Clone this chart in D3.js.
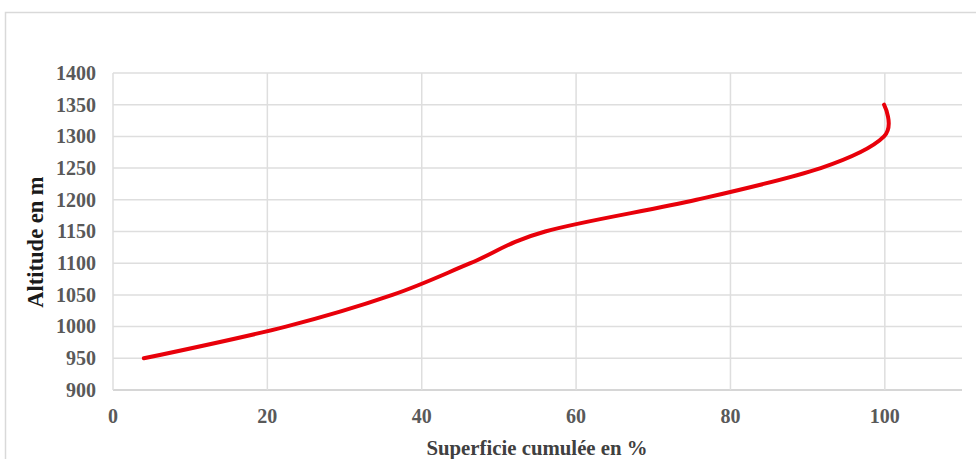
<!DOCTYPE html>
<html>
<head>
<meta charset="utf-8">
<script src="https://cdn.jsdelivr.net/npm/d3@7"></script>
<style>
  html, body { margin: 0; padding: 0; background: #fff; }
  svg { display: block; }
</style>
</head>
<body>
<svg id="chart" width="976" height="459"></svg>
<script>
// Data
const altitudes = [950, 1000, 1050, 1100, 1150, 1200, 1250, 1300, 1350];
const cumulativeArea = [4, 22.4, 36.2, 46.3, 56, 75.6, 91.7, 99.9, 99.9];
const xTicks = [0, 20, 40, 60, 80, 100];
const yTicks = [900, 950, 1000, 1050, 1100, 1150, 1200, 1250, 1300, 1350, 1400];
const xTitle = "Superficie cumulée en %";
const yTitle = "Altitude en m";

const svg = d3.select("#chart");
const W = 976, H = 459;
const plotL = 113, plotR = 962, plotT = 73, plotB = 390;
const serif = "'Liberation Serif', 'Times New Roman', serif";

const x = d3.scaleLinear().domain([0, 110]).range([plotL, plotR]);
const y = d3.scaleLinear().domain([900, 1400]).range([plotB, plotT]);

// outer frame
svg.append("rect")
  .attr("x", 5.5).attr("y", 12.5)
  .attr("width", W + 10).attr("height", H + 10)
  .attr("fill", "none").attr("stroke", "#d9d9d9").attr("stroke-width", 1.5);

// horizontal gridlines
svg.append("g").selectAll("line").data(yTicks).join("line")
  .attr("x1", plotL).attr("x2", plotR)
  .attr("y1", d => y(d)).attr("y2", d => y(d))
  .attr("stroke", d => d === 900 ? "#c8c8c8" : "#dedede")
  .attr("stroke-width", 1.5);

// vertical gridlines
svg.append("g").selectAll("line").data(xTicks).join("line")
  .attr("x1", d => x(d)).attr("x2", d => x(d))
  .attr("y1", plotT).attr("y2", plotB)
  .attr("stroke", "#dedede")
  .attr("stroke-width", 1.5);

// Y tick labels
svg.append("g").selectAll("text").data(yTicks).join("text")
  .attr("x", 96).attr("y", d => y(d))
  .attr("dy", "0.34em")
  .attr("text-anchor", "end")
  .attr("font-family", serif)
  .attr("font-weight", "bold")
  .attr("font-size", 20)
  .attr("fill", "#595959")
  .text(d => d);

// X tick labels
svg.append("g").selectAll("text").data(xTicks).join("text")
  .attr("x", d => x(d)).attr("y", 423)
  .attr("text-anchor", "middle")
  .attr("font-family", serif)
  .attr("font-weight", "bold")
  .attr("font-size", 20)
  .attr("fill", "#595959")
  .text(d => d);

// Axis titles
svg.append("text")
  .attr("x", 537).attr("y", 455)
  .attr("text-anchor", "middle")
  .attr("font-family", serif)
  .attr("font-weight", "bold")
  .attr("font-size", 20.8)
  .attr("fill", "#404040")
  .text(xTitle);

svg.append("text")
  .attr("transform", "translate(43, 242) rotate(-90)")
  .attr("text-anchor", "middle")
  .attr("font-family", serif)
  .attr("font-weight", "bold")
  .attr("font-size", 22.5)
  .attr("fill", "#1a1a1a")
  .text(yTitle);

// Curve
const pts = altitudes.map((a, i) => [cumulativeArea[i], a]);
const line = d3.line()
  .x(d => x(d[0])).y(d => y(d[1]))
  .curve(d3.curveCardinal.tension(0));

svg.append("path")
  .datum(pts)
  .attr("d", line)
  .attr("fill", "none")
  .attr("stroke", "#e8000a")
  .attr("stroke-width", 4)
  .attr("stroke-linecap", "round")
  .attr("stroke-linejoin", "round");
</script>
</body>
</html>
